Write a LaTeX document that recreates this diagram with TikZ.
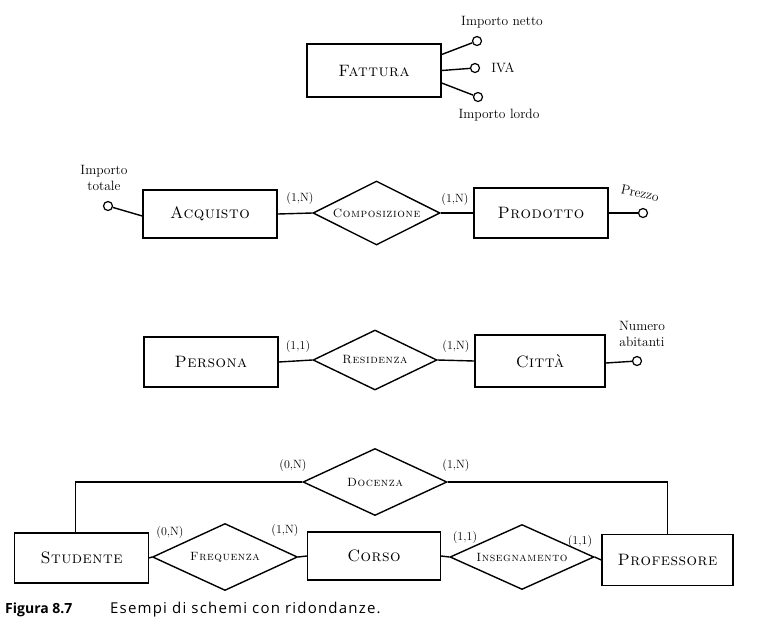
\documentclass[tikz,border=0pt]{standalone}
\usepackage{fontspec}
\usetikzlibrary{shapes.geometric,calc}
\newfontfamily\capfont{Open Sans}[LetterSpace=8]
\newfontfamily\capbfont{Open Sans}
\newfontfamily\relfont{lmromancaps10-regular}[Extension=.otf,LetterSpace=5]
\newfontfamily\entfont{lmromancaps10-regular}[Extension=.otf,LetterSpace=3]
\tikzset{
  ent/.style={draw, line width=1.4pt, inner sep=0pt, minimum width=134pt, minimum height=50pt,
    font={\entfont\fontsize{16.5}{18}\selectfont}},
  rel/.style={draw, diamond, line width=1.4pt, inner sep=0pt},
  reltext/.style={font={\relfont\fontsize{12}{14}\selectfont}},
  attr/.style={circle, draw, line width=1.2pt, minimum size=9pt, inner sep=0pt},
  atext/.style={font={\fontsize{13.5}{14}\selectfont}, inner sep=0pt},
  card/.style={font={\fontsize{12}{13}\selectfont}, inner sep=0pt},
  conn/.style={line width=1.4pt}
}
\begin{document}
\begin{tikzpicture}[x=1pt, y=-1pt]
\useasboundingbox (0,0) rectangle (763,633);

% --- Fattura
\node[ent, minimum height=53pt] (fattura) at (374,70.5) {Fattura};
\node[attr] (in1) at (477,41) {};
\node[attr] (in2) at (475,68) {};
\node[attr] (in3) at (478,97) {};
\node[atext] (tin1) at (502,22) {Importo netto};
\node[atext] (tin2) at (503,68) {IVA};
\node[atext] (tin3) at (499,115) {Importo lordo};
\draw[conn] ([yshift=16pt]fattura.east) -- (in1);
\draw[conn] (fattura.east) -- (in2);
\draw[conn] ([yshift=-12.5pt]fattura.east) -- (in3);

% --- Acquisto / Composizione / Prodotto
\node[ent, minimum height=48pt] (acquisto) at (210,214) {Acquisto};
\node[rel, minimum width=127pt, minimum height=64pt,
  label={[reltext]center:Composizione}] (composizione) at (376.5,213) {};
\node[ent] (prodotto) at (541,213) {Prodotto};
\node[attr] (it) at (108,206) {};
\node[atext, align=center] (tit) at (104,178) {Importo\\[2pt]totale};
\node[attr] (pr) at (643,213) {};
\node[atext, rotate=-12] (tpr) at (640,193) {Prezzo};
\node[card] (c1) at (300,198) {(1,N)};
\node[card] (c2) at (455,199) {(1,N)};
\draw[conn] (acquisto.east) -- (composizione.west);
\draw[conn] (composizione.east) -- (prodotto.west);
\draw[conn] (it) -- ([yshift=-2pt]acquisto.west);
\draw[conn] (prodotto.east) -- (pr);

% --- Persona / Residenza / Citta
\node[ent] (persona) at (211,362) {Persona};
\node[rel, minimum width=124pt, minimum height=60pt,
  label={[reltext]center:Residenza}] (residenza) at (375,360) {};
\node[ent, minimum width=130pt, minimum height=52pt] (citta) at (540,361) {Città};
\node[attr] (na) at (637,361) {};
\node[atext, align=center] (tna) at (642,334) {Numero\\[2pt]abitanti};
\node[card] (c3) at (298,346) {(1,1)};
\node[card] (c4) at (456,346) {(1,N)};
\draw[conn] (persona.east) -- (residenza.west);
\draw[conn] (residenza.east) -- (citta.west);
\draw[conn] ([yshift=-2pt]citta.east) -- (na);

% --- Studente / Corso / Professore
\node[rel, minimum width=144pt, minimum height=67pt,
  label={[reltext]center:Docenza}] (docenza) at (375,482) {};
\node[ent] (studente) at (81.5,558) {Studente};
\node[rel, minimum width=145pt, minimum height=67pt,
  label={[reltext]center:Frequenza}] (frequenza) at (225,557) {};
\node[ent, minimum width=133pt, minimum height=48pt] (corso) at (374,556) {Corso};
\node[rel, minimum width=144pt, minimum height=65pt,
  label={[reltext]center:Insegnamento}] (insegnamento) at (522,557) {};
\node[ent, minimum width=131pt, minimum height=51pt] (professore) at (667.5,560) {Professore};
\node[card] (c5) at (293,465) {(0,N)};
\node[card] (c6) at (456,465) {(1,N)};
\node[card] (c7) at (170,532) {(0,N)};
\node[card] (c8) at (285,530) {(1,N)};
\node[card] (c9) at (465,537) {(1,1)};
\node[card] (c10) at (580,541) {(1,1)};
\draw[conn] (docenza.west) -| ([xshift=-6pt]studente.north);
\draw[conn] (docenza.east) -| (professore.north);
\draw[conn] (studente.east) -- (frequenza.west);
\draw[conn] (frequenza.east) -- (corso.west);
\draw[conn] (corso.east) -- (insegnamento.west);
\draw[conn] (insegnamento.east) -- (professore.west);

% --- caption
\node[anchor=west, inner sep=0pt, font={\capbfont\bfseries\fontsize{14}{16}\selectfont}] (capnum) at (5,610) {Figura 8.7};
\node[anchor=west, inner sep=0pt, font={\capfont\fontsize{15}{17}\selectfont}] (captxt) at (110,610) {Esempi di schemi con ridondanze.};
\end{tikzpicture}
\end{document}
